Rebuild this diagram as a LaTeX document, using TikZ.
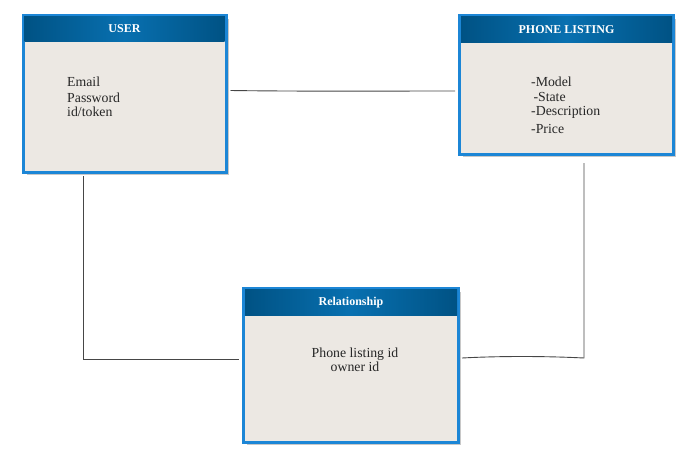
\documentclass[tikz,border=0pt]{standalone}
\usepackage{fontspec}
\setmainfont{Liberation Serif}
\usetikzlibrary{calc}
\definecolor{boxbody}{RGB}{236,232,227}
\definecolor{boxborder}{RGB}{28,134,214}
\definecolor{hdrdark}{RGB}{0,82,132}
\definecolor{hdrmid}{RGB}{8,112,176}
\definecolor{shadowgray}{RGB}{200,200,200}
\definecolor{linegray}{RGB}{70,70,70}
\tikzset{
  entity/.style={draw=boxborder, line width=2pt, fill=boxbody, inner sep=0pt},
  header/.style={left color=hdrdark, right color=hdrdark, middle color=hdrmid, inner sep=0pt,
    text=white, font=\bfseries\fontsize{12}{13}\selectfont},
  shadowbox/.style={fill=shadowgray, draw=none},
  body/.style={font=\fontsize{13.8}{15}\selectfont, text=black!85, inner sep=0pt},
  conn/.style={draw=linegray, line width=0.9pt}
}
\begin{document}
\begin{tikzpicture}[x=1pt,y=-1pt]
\useasboundingbox (0,0) rectangle (689,451);
% USER
\fill[shadowbox] (27,19) rectangle (229,175);
\node[entity, minimum width=202, minimum height=156] (user) at (124.5,93.5) {};
\node[header, minimum width=200, minimum height=26, anchor=north] (userh) at ($(user.north)+(0,1)$) {USER};
\draw[boxborder, line width=2pt] (user.north west) rectangle (user.south east);
\node[body, anchor=north west, align=left] (usert) at (67,76.5) {Email\\[1pt]Password\\[-1pt]id/token};
% PHONE LISTING
\fill[shadowbox] (463,19) rectangle (676,157);
\node[entity, minimum width=213, minimum height=138] (phone) at (566.5,85) {};
\node[header, minimum width=211, minimum height=26, anchor=north] (phoneh) at ($(phone.north)+(0,1)$) {PHONE LISTING};
\draw[boxborder, line width=2pt] (phone.north west) rectangle (phone.south east);
\node[body, anchor=north west, align=left] (phonet) at (531,77) {-Model\\\,-State\\[-1pt]-Description\\[3pt]-Price};
% Relationship
\fill[shadowbox] (247,292) rectangle (461,445);
\node[entity, minimum width=214, minimum height=153] (rel) at (351,365.5) {};
\node[header, minimum width=212, minimum height=26, anchor=north] (relh) at ($(rel.north)+(0,1)$) {Relationship};
\draw[boxborder, line width=2pt] (rel.north west) rectangle (rel.south east);
\node[body, anchor=north, align=center] (relt) at (355,348) {Phone listing id\\[-1pt]owner id};
% connectors
\coordinate (c1) at (83,176);
\coordinate (c2) at (83,359);
\coordinate (c3) at (584,163);
\coordinate (c4) at (584,358);
\draw[conn] ($(user.east)+(4,-3)$) .. controls ($(user.east)+(80,-2)$) and ($(phone.west)+(-80,6)$) .. ($(phone.west)+(-4,6)$);
\draw[conn] (c1) -- (c2) -- ($(rel.west |- c2)+(-4,0)$);
\draw[conn] (c3) -- (c4) .. controls ($(c4)+(-40,-2)$) and ($(rel.east |- c4)+(40,-2)$) .. ($(rel.east |- c4)+(3,0)$);
\end{tikzpicture}
\end{document}
